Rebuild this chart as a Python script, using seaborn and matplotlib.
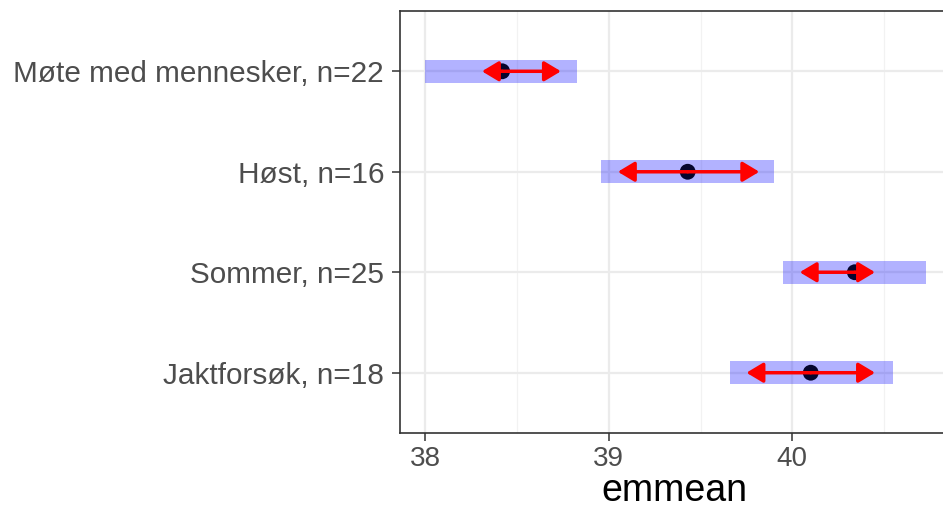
import numpy as np
import pandas as pd
import matplotlib
matplotlib.use("Agg")
import matplotlib.pyplot as plt
import seaborn as sns

# estimerte marginale gjennomsnitt (lest av figuren)
grupper = ["Møte med mennesker, n=22", "Høst, n=16", "Sommer, n=25", "Jaktforsøk, n=18"]
emmean = [38.42, 39.43, 40.34, 40.10]
ci_lav = [38.00, 38.96, 39.95, 39.66]
ci_hoy = [38.83, 39.90, 40.73, 40.55]
pil_lav = [38.31, 39.05, 40.04, 39.75]
pil_hoy = [38.74, 39.82, 40.45, 40.45]
x_ticks = [38, 39, 40]

df = pd.DataFrame({"gruppe": grupper, "emmean": emmean,
                   "lav": ci_lav, "hoy": ci_hoy,
                   "pil_lav": pil_lav, "pil_hoy": pil_hoy})
df["pos"] = np.arange(len(df))

sns.set_style("white")
plt.rcParams["font.family"] = ["Liberation Sans", "DejaVu Sans"]

fig = plt.figure(figsize=(9.43, 5.13), dpi=100)
ax = fig.add_axes([400 / 943, 80 / 513, 543 / 943, 422 / 513])

# rutenett som i theme_bw
for x in x_ticks:
    ax.axvline(x, color="#EBEBEB", lw=1.6, zorder=0)
for x in [38.5, 39.5, 40.5]:
    ax.axvline(x, color="#F2F2F2", lw=0.9, zorder=0)
for y in df["pos"]:
    ax.axhline(y, color="#EBEBEB", lw=1.6, zorder=0)

# konfidensintervall
ax.barh(df["pos"], df["hoy"] - df["lav"], left=df["lav"], height=0.23,
        color="blue", alpha=0.3, linewidth=0, zorder=1)

# sammenligningspiler
for _, r in df.iterrows():
    for ende in (r["pil_lav"], r["pil_hoy"]):
        ax.annotate("", xy=(ende, r["pos"]), xytext=(r["emmean"], r["pos"]),
                    arrowprops=dict(arrowstyle="-|>,head_length=1.0,head_width=0.6",
                                    color="red", lw=2.5, shrinkA=0, shrinkB=0),
                    zorder=3)

sns.scatterplot(data=df, x="emmean", y="pos", color="#05052E", s=130,
                edgecolor="none", ax=ax, zorder=2, legend=False)

ax.set_xlim(37.864, 40.82)
ax.set_ylim(3.6, -0.6)
ax.set_xticks(x_ticks)
ax.set_xticklabels([str(t) for t in x_ticks])
ax.set_yticks(df["pos"])
ax.set_yticklabels(df["gruppe"])
ax.tick_params(axis="both", length=5.5, width=1.1, color="#333333",
               labelcolor="#4D4D4D", left=True, bottom=True)
ax.tick_params(axis="y", labelsize=21.4, pad=6)
ax.tick_params(axis="x", labelsize=20, pad=4)
ax.set_xlabel("emmean", fontsize=27, color="black")
ax.xaxis.set_label_coords(0.506, -0.095)
ax.set_ylabel("")

for side, sp in ax.spines.items():
    sp.set_color("#333333")
    sp.set_linewidth(1.2)
    sp.set_visible(side != "right")

fig.savefig("out.png", dpi=100)
